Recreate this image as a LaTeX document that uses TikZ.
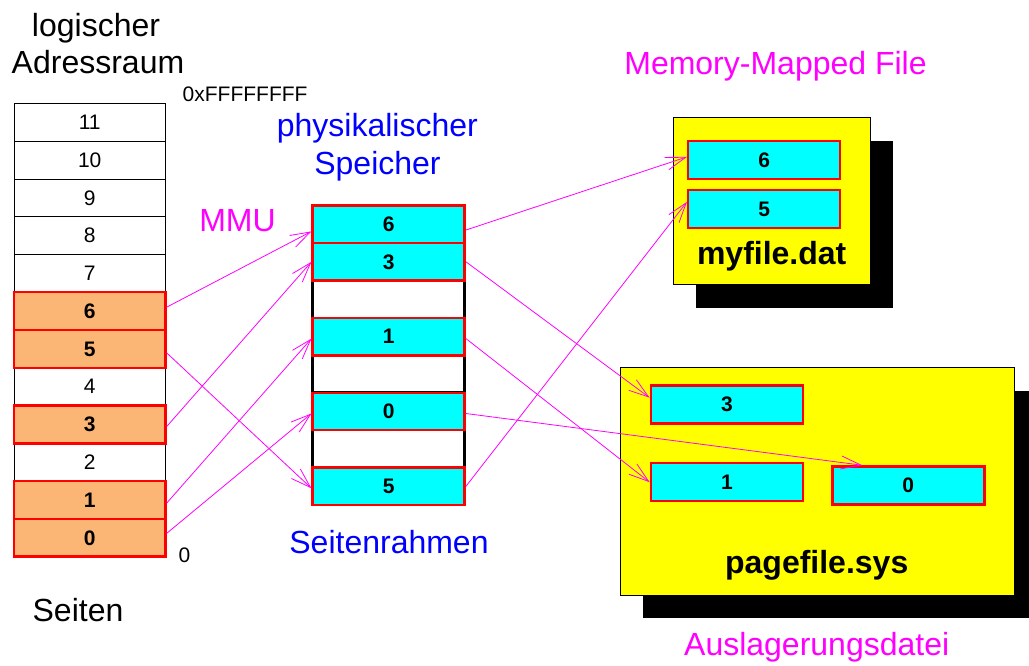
\documentclass[tikz,border=0pt]{standalone}
\usepackage{fontspec}
\setmainfont{Liberation Sans}
\usetikzlibrary{arrows.meta}

\definecolor{pageorange}{RGB}{251,182,117}
\definecolor{mapmagenta}{RGB}{255,0,255}
\definecolor{labelblue}{RGB}{0,0,255}
\definecolor{framecyan}{RGB}{0,255,255}
\definecolor{fileyellow}{RGB}{255,255,0}
\definecolor{borderred}{RGB}{255,0,0}

\newcommand{\bigtext}{\fontsize{32}{37}\selectfont}
\newcommand{\smalltext}{\fontsize{21}{25}\selectfont}

\tikzset{
  cellplain/.style={rectangle, draw=black, line width=0.8pt, fill=white,
    minimum width=151.5pt, minimum height=37.78pt, inner sep=0pt, font=\smalltext},
  cellused/.style={cellplain, draw=borderred, line width=2.5pt, fill=pageorange,
    font=\smalltext\bfseries},
  slotfree/.style={rectangle, draw=black, line width=2.5pt, fill=white,
    minimum width=152pt, minimum height=37.41pt, inner sep=0pt},
  slotused/.style={slotfree, draw=borderred, fill=framecyan, font=\smalltext\bfseries},
  filepage/.style={rectangle, draw=borderred, line width=2.5pt, fill=framecyan,
    minimum width=152pt, minimum height=38pt, inner sep=0pt, font=\smalltext\bfseries},
  filebox/.style={rectangle, draw=black, line width=0.8pt, fill=fileyellow, inner sep=0pt},
  shadowbox/.style={rectangle, fill=black, inner sep=0pt},
  biglabel/.style={anchor=base, inner sep=0pt, font=\bigtext},
  smalllabel/.style={anchor=base west, inner sep=0pt, font=\smalltext},
  mapline/.style={draw=mapmagenta, line width=0.8pt,
    -{Straight Barb[length=20pt, width=13pt, line width=0.8pt]}}
}

\begin{document}
\begin{tikzpicture}[x=1pt, y=-1pt]
  \useasboundingbox (0,0) rectangle (1029,665);

  % logical address space: pages 0..11, bottom to top
  \foreach \k in {2,4,7,8,9,10,11}
    \node[cellplain] (r\k) at (89.75,{556.7-37.78*(\k+0.5)}) {\k};
  \foreach \k in {0,1,3,5,6}
    \node[cellused] (r\k) at (89.75,{556.7-37.78*(\k+0.5)}) {\k};

  \node[biglabel] (lblLogA) at (96,36) {logischer};
  \node[biglabel] (lblLogB) at (98,73) {Adressraum};
  \node[smalllabel] (lblTop) at (182.5,101) {0xFFFFFFFF};
  \node[smalllabel] (lblZero) at (178.5,562.7) {0};
  \node[biglabel] (lblPages) at (78,621.7) {Seiten};

  % physical memory: page frames
  \node[slotfree] (f1) at (388.7,299.2) {};
  \node[slotfree] (f2) at (388.7,374.0) {};
  \node[slotfree] (f3) at (388.7,448.9) {};
  \node[slotused] (s6) at (388.7,224.4) {6};
  \node[slotused] (s3) at (388.7,261.8) {3};
  \node[slotused] (s1) at (388.7,336.6) {1};
  \node[slotused] (s0) at (388.7,411.5) {0};
  \node[slotused] (s5) at (388.7,486.3) {5};

  \node[biglabel, text=labelblue] (lblPhysA) at (377.3,136.7) {physikalischer};
  \node[biglabel, text=labelblue] (lblPhysB) at (377.5,174) {Speicher};
  \node[biglabel, text=labelblue] (lblFrames) at (389,553.3) {Seitenrahmen};
  \node[biglabel, text=mapmagenta] (lblMMU) at (237.5,231.7) {MMU};

  % memory-mapped file
  \node[shadowbox, minimum width=197pt, minimum height=166.6pt] (mfShadow) at (794.3,224.2) {};
  \node[filebox, minimum width=197pt, minimum height=166.6pt] (mf) at (771.8,201) {};
  \node[filepage] (m6) at (764.2,159.9) {6};
  \node[filepage] (m5) at (764.2,208.9) {5};
  \node[biglabel, font=\bigtext\bfseries] (lblMyfile) at (771.7,264.3) {myfile.dat};
  \node[biglabel, text=mapmagenta] (lblMapped) at (775.5,74.3) {Memory-Mapped File};

  % paging file
  \node[shadowbox, minimum width=393.6pt, minimum height=227.3pt] (pfShadow) at (840.1,504.7) {};
  \node[filebox, minimum width=393.6pt, minimum height=227.3pt] (pf) at (817.5,481.4) {};
  \node[filepage] (p3) at (726.9,404.7) {3};
  \node[filepage] (p1) at (726.9,482.2) {1};
  \node[filepage] (p0) at (908.3,485.5) {0};
  \node[biglabel, font=\bigtext\bfseries] (lblPagefile) at (816.7,573.3) {pagefile.sys};
  \node[biglabel, text=mapmagenta] (lblSwap) at (816.7,655) {Auslagerungsdatei};

  % MMU mapping: pages to frames
  \draw[mapline] ([yshift=4pt]r6.east) -- ([yshift=-7pt]s6.west);
  \draw[mapline] ([yshift=-4pt]r5.east) -- ([yshift=-2pt]s5.west);
  \draw[mapline] ([yshift=-2pt]r3.east) -- (s3.west);
  \draw[mapline] ([yshift=-3pt]r1.east) -- ([yshift=-2pt]s1.west);
  \draw[mapline] ([yshift=4.5pt]r0.east) -- ([yshift=-2pt]s0.west);

  % frames backed by files
  \draw[mapline] ([yshift=-5.6pt]s6.east) -- ([yshift=3pt]m6.west);
  \draw[mapline] (s5.east) -- ([yshift=7pt]m5.west);
  \draw[mapline] (s3.east) -- ([yshift=7pt]p3.west);
  \draw[mapline] ([yshift=-2pt]s1.east) -- (p1.west);
  \draw[mapline] ([yshift=-2pt]s0.east) -- ([xshift=-46pt]p0.north);
\end{tikzpicture}
\end{document}
